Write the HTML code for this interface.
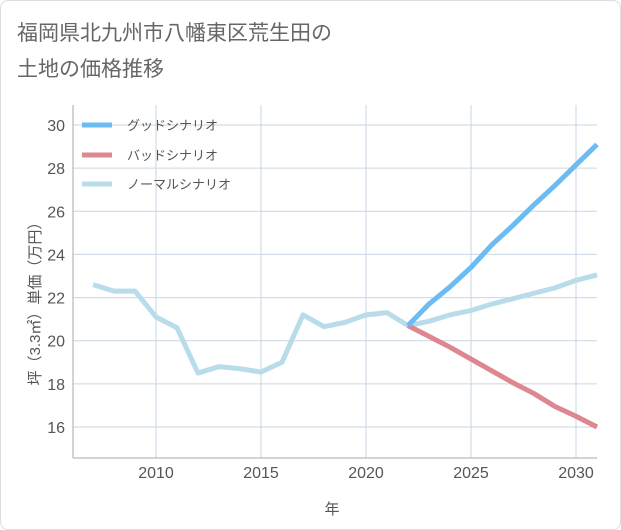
<!DOCTYPE html>
<html><head><meta charset="utf-8"><style>
body{margin:0;background:#fff;font-family:"Liberation Sans","Noto Sans CJK JP",sans-serif}
.card{position:absolute;left:0;top:0;width:619px;height:528px;border:1px solid #ddd;border-radius:8px;background:#fff}
</style></head><body>
<div class="card"></div>
<svg width="621" height="530" style="position:absolute;left:0;top:0" font-family="Liberation Sans, Noto Sans CJK JP, sans-serif">
<text x="17" y="40" font-size="21" fill="#666">福岡県北九州市八幡東区荒生田の</text>
<text x="17" y="76" font-size="21" fill="#666">土地の価格推移</text>
<g id="grid"></g>
<g id="lines"></g>
<g id="legend"></g>
<text x="332" y="514" font-size="15" fill="#555" text-anchor="middle">年</text>
<text transform="translate(40,300) rotate(-90)" font-size="15" fill="#555" text-anchor="middle">坪（3.3㎡）単価（万円）</text>
</svg>
<script>
const years=[2007,2008,2009,2010,2011,2012,2013,2014,2015,2016,2017,2018,2019,2020,2021,2022,2023,2024,2025,2026,2027,2028,2029,2030,2031];
const normal=[22.6,22.3,22.3,21.1,20.6,18.5,18.8,18.7,18.55,19.0,21.2,20.65,20.85,21.2,21.3,20.7,20.9,21.2,21.4,21.7,21.95,22.2,22.45,22.8,23.05];
const goodYears=[2022,2023,2024,2025,2026,2027,2028,2029,2030,2031];
const good=[20.7,21.7,22.5,23.4,24.45,25.35,26.3,27.2,28.15,29.1];
const bad=[20.7,20.2,19.7,19.15,18.6,18.05,17.55,16.95,16.5,16.0];
const yTicks=[16,18,20,22,24,26,28,30];
const xTicks=[2010,2015,2020,2025,2030];
const X0=73,X1=597,Y0=105,Y1=458;
const xs=y=>156+(y-2010)*21;
const ys=v=>427-(v-16)*(302/14);
const NS='http://www.w3.org/2000/svg';
function mk(tag,attrs,parent){const e=document.createElementNS(NS,tag);for(const k in attrs)e.setAttribute(k,attrs[k]);parent.appendChild(e);return e;}
const grid=document.getElementById('grid');
for(const t of yTicks){
 const l=mk('line',{x1:X0,x2:X1,y1:ys(t),y2:ys(t),stroke:'#c9d6e3','stroke-width':1},grid);
 
 
 const tx=mk('text',{x:65,y:ys(t)+6,'font-size':16,fill:'#555','text-anchor':'end'},grid);tx.textContent=t;
 
 
}
for(const t of xTicks){
 const l=mk('line',{x1:xs(t),x2:xs(t),y1:Y0,y2:Y1,stroke:'#c9d6e3','stroke-width':1},grid);
 
 
 const tx=mk('text',{x:xs(t),y:478,'font-size':16,fill:'#555','text-anchor':'middle'},grid);tx.textContent=t;
 
 
}
const ax=mk('line',{x1:X0,x2:X0,y1:Y0,y2:Y1,stroke:'#aaa'},grid);


const bx=mk('line',{x1:X0,x2:X1,y1:Y1,y2:Y1,stroke:'#aaa'},grid);


const lines=document.getElementById('lines');
function series(xv,yv,color,name){
 const p=mk('polyline',{points:xv.map((x,i)=>xs(x)+','+ys(yv[i])).join(' '),fill:'none',stroke:color,'stroke-width':5,'stroke-linejoin':'round'},lines);
 
 
}
series(years,normal,'#b9dcea','normal-scenario-line');
series(goodYears,bad,'#dd8790','bad-scenario-line');
series(goodYears,good,'#6bbcf4','good-scenario-line');
const lg=document.getElementById('legend');
[['グッドシナリオ','#6bbcf4',125],['バッドシナリオ','#dd8790',155],['ノーマルシナリオ','#b9dcea',184]].forEach(([t,c,y],i)=>{
 const g=mk('g',{},lg);
 
 
 mk('line',{x1:82,x2:112,y1:y,y2:y,stroke:c,'stroke-width':5},g);
 const tx=mk('text',{x:127,y:y+5,'font-size':13,fill:'#555'},g);tx.textContent=t;
});
</script>
</body></html>
